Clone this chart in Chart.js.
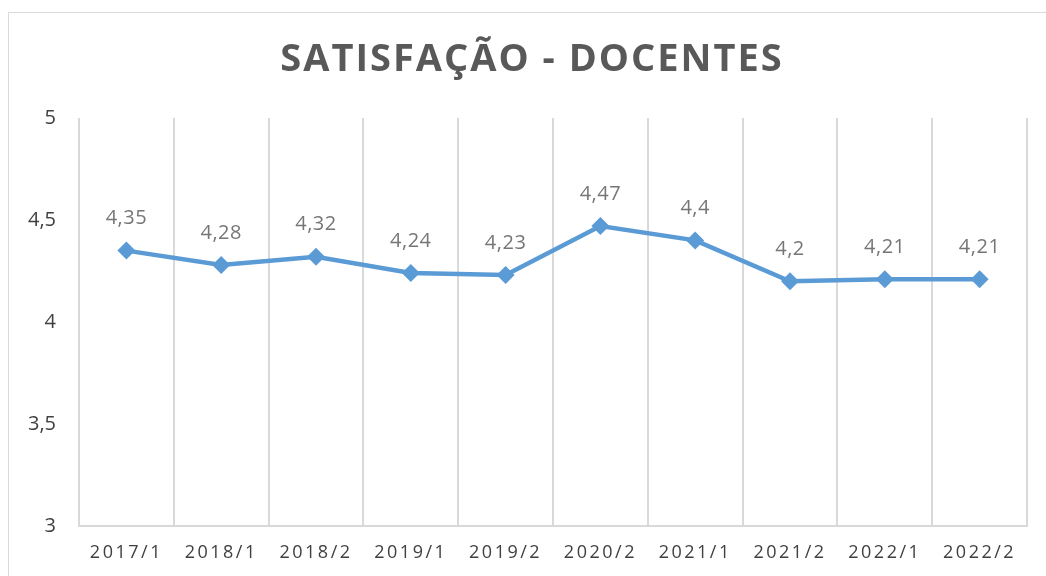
<!DOCTYPE html>
<html>
<head>
<meta charset="utf-8">
<script src="https://cdn.jsdelivr.net/npm/chart.js@4/dist/chart.umd.min.js"></script>
<style>
  html, body { margin: 0; padding: 0; background: #fff; overflow: hidden; }
  #frame { position: absolute; left: 8px; top: 12px; width: 1100px; height: 620px; border: 1px solid #d9d9d9; }
  #wrap { position: absolute; left: 0; top: 0; width: 1046px; height: 576px; }
</style>
</head>
<body>
<div id="frame"></div>
<div id="wrap"><canvas id="chart" width="1046" height="576"></canvas></div>
<script>
// data
const periods = ['2017/1', '2018/1', '2018/2', '2019/1', '2019/2', '2020/2', '2021/1', '2021/2', '2022/1', '2022/2'];
const satisfaction = [4.35, 4.28, 4.32, 4.24, 4.23, 4.47, 4.4, 4.2, 4.21, 4.21];
const titleText = 'SATISFAÇÃO - DOCENTES';

const lineColor = '#5b9bd5';
const gridColor = '#d9d9d9';
const fontFamily = '"Open Sans", "Noto Sans", sans-serif';

const commaNum = v => String(v).replace('.', ',');

// title drawn by hand so we can space the letters
const titlePlugin = {
    id: 'titlePlugin',
    afterDraw(chart) {
        const ctx = chart.ctx;
        ctx.save();
        ctx.font = 'bold 38px ' + fontFamily;
        ctx.letterSpacing = '2px';
        ctx.fillStyle = '#595959';
        ctx.textAlign = 'center';
        ctx.textBaseline = 'middle';
        ctx.fillText(titleText, 532, 60);
        ctx.restore();
    }
};

// value labels above each point
const valueLabels = {
    id: 'valueLabels',
    afterDatasetsDraw(chart) {
        const ctx = chart.ctx;
        const meta = chart.getDatasetMeta(0);
        ctx.save();
        ctx.font = '20px ' + fontFamily;
        ctx.letterSpacing = '0.5px';
        ctx.fillStyle = '#767676';
        ctx.textAlign = 'center';
        ctx.textBaseline = 'middle';
        meta.data.forEach((pt, i) => {
            ctx.fillText(commaNum(satisfaction[i]), pt.x, pt.y - 32);
        });
        ctx.restore();
    }
};

// spaced-out category labels on the x axis
const spacedXLabels = {
    id: 'spacedXLabels',
    beforeDraw(chart) {
        const xs = chart.scales.x;
        if (xs._spaced) return;
        const orig = xs.drawLabels.bind(xs);
        xs.drawLabels = function (area) {
            chart.ctx.save();
            chart.ctx.letterSpacing = '2.5px';
            orig(area);
            chart.ctx.restore();
        };
        xs._spaced = true;
    }
};

const ctx = document.getElementById('chart').getContext('2d');
const chart = new Chart(ctx, {
    type: 'line',
    data: {
        labels: periods,
        datasets: [{
            label: 'Satisfação',
            data: satisfaction,
            borderColor: lineColor,
            backgroundColor: lineColor,
            borderWidth: 4.5,
            pointStyle: 'rectRot',
            pointRadius: 9,
            pointBorderWidth: 0,
            pointBackgroundColor: lineColor,
            tension: 0,
            fill: false
        }]
    },
    options: {
        responsive: false,
        animation: false,
        layout: { padding: { left: 0, right: 19, top: 118, bottom: 0 } },
        plugins: {
            legend: { display: false },
            title: { display: false },
            tooltip: { enabled: false }
        },
        scales: {
            x: {
                offset: true,
                grid: { display: true, offset: true, color: gridColor, lineWidth: 2, drawTicks: false },
                border: { display: true, color: gridColor, width: 2 },
                ticks: {
                    color: '#404040',
                    font: { family: fontFamily, size: 18 },
                    padding: 16,
                    maxRotation: 0,
                    autoSkip: false
                },
                afterFit(scale) { scale.height = 50; }
            },
            y: {
                min: 3,
                max: 5,
                grid: { display: false, drawTicks: false },
                border: { display: false },
                ticks: {
                    stepSize: 0.5,
                    color: '#404040',
                    font: { family: fontFamily, size: 20 },
                    padding: 23,
                    callback: v => commaNum(v)
                },
                afterFit(scale) { scale.width = 79; }
            }
        }
    },
    plugins: [spacedXLabels, valueLabels, titlePlugin]
});
chart.draw();
</script>
</body>
</html>
